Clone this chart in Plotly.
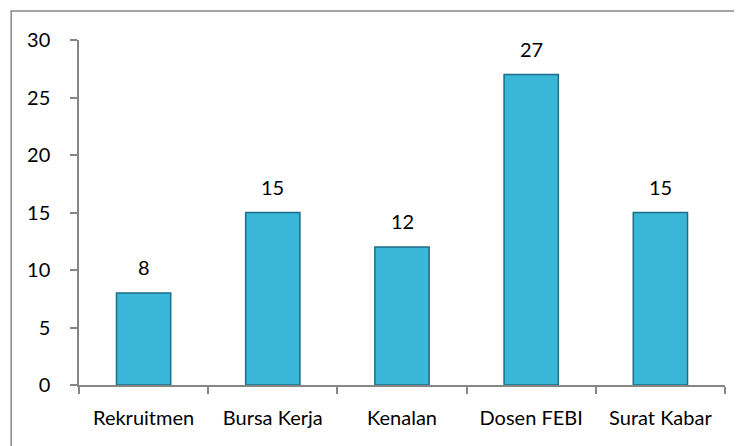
import plotly.graph_objects as go

categories = ['Rekruitmen', 'Bursa Kerja', 'Kenalan', 'Dosen FEBI', 'Surat Kabar']
values = [8, 15, 12, 27, 15]

font = dict(family='Lato, Noto Sans, sans-serif', size=20, color='black')

fig = go.Figure(go.Bar(x=categories,
                       y=values,
                       marker=dict(color='#39B6D8', line=dict(color='#1D6E86', width=1.5)),
                       hoverinfo='x+y'))

for c, v in zip(categories, values):
    fig.add_annotation(x=c, y=v, text=str(v), showarrow=False,
                       yshift=26, font=font)

# chart border (only top/left visible in the frame)
fig.add_shape(type='rect', xref='paper', yref='paper',
              x0=-0.105, x1=1.04, y0=-0.2, y1=1.084,
              line=dict(color='#878787', width=1.5))

fig.update_layout(width=742, height=446,
                  margin=dict(l=71, r=25, t=32, b=69),
                  plot_bgcolor='white', paper_bgcolor='white',
                  bargap=0.58, showlegend=False, font=font)
fig.update_xaxes(showline=True, linecolor='#868686', linewidth=1.5,
                 ticks='outside', tickson='boundaries', ticklen=7,
                 tickcolor='#868686', tickwidth=1.5, showgrid=False,
                 tickfont=font, ticklabelstandoff=14)
fig.update_yaxes(range=[0, 30], dtick=5, showline=True, linecolor='#868686',
                 linewidth=1.5, ticks='outside', ticklen=7, tickcolor='#868686',
                 tickwidth=1.5, showgrid=False, zeroline=False,
                 tickfont=font, ticklabelstandoff=16)

fig.write_html("out.html")
